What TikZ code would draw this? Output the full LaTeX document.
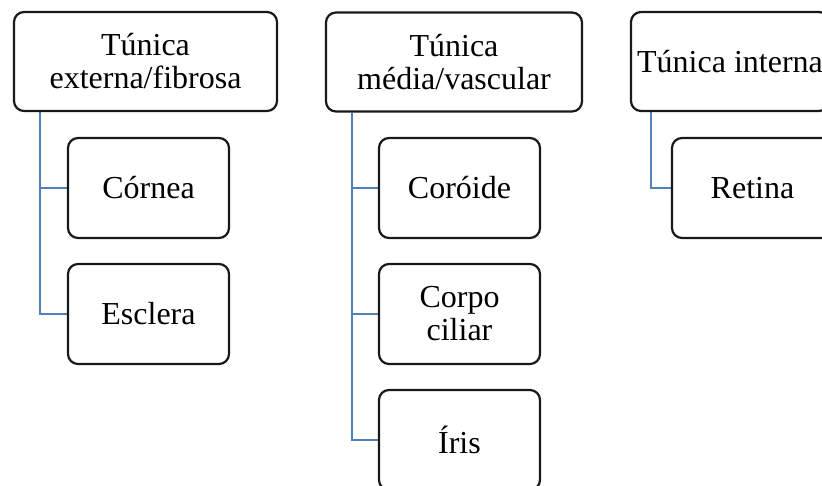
\documentclass[tikz,border=0pt]{standalone}
\usepackage{fontspec}
\setmainfont{Liberation Serif}
\usetikzlibrary{backgrounds}
\definecolor{linkblue}{RGB}{79,129,189}
\begin{document}
\begin{tikzpicture}[x=1pt,y=-1pt,
  box/.style={draw=black!90, line width=2.2pt, rounded corners=10pt, fill=white,
    inner sep=0pt, align=center, font=\fontsize{32}{33}\selectfont},
  parentbox/.style={box, minimum height=99pt},
  childbox/.style={box, minimum width=161pt, minimum height=100pt},
  link/.style={draw=linkblue, line width=2.2pt}]
\useasboundingbox (0,0) rectangle (822,486);
\clip (0,0) rectangle (822,486);
% column 1
\node[parentbox, minimum width=263pt] (t1) at (145.5,61.5) {Túnica\\externa/fibrosa};
\node[childbox] (c1) at (148.5,188) {Córnea};
\node[childbox] (c2) at (148.5,314) {Esclera};
% column 2
\node[parentbox, minimum width=256pt] (t2) at (454,62) {Túnica\\média/vascular};
\node[childbox] (d1) at (459.5,188) {Coróide};
\node[childbox] (d2) at (459.5,314) {Corpo\\ciliar};
\node[childbox] (d3) at (459.5,440) {Íris};
% column 3
\node[parentbox, minimum width=198pt] (t3) at (730,61.5) {Túnica interna};
\node[childbox] (e1) at (752.5,188) {Retina};
\begin{scope}[on background layer]
\draw[link] ([xshift=27pt]t1.south west) |- (c2.west);
\draw[link] ([xshift=27pt]t1.south west) |- (c1.west);
\draw[link] ([xshift=27pt]t2.south west) |- (d3.west);
\draw[link] ([xshift=27pt]t2.south west) |- (d2.west);
\draw[link] ([xshift=27pt]t2.south west) |- (d1.west);
\draw[link] ([xshift=21pt]t3.south west) |- (e1.west);
\end{scope}
\end{tikzpicture}
\end{document}
